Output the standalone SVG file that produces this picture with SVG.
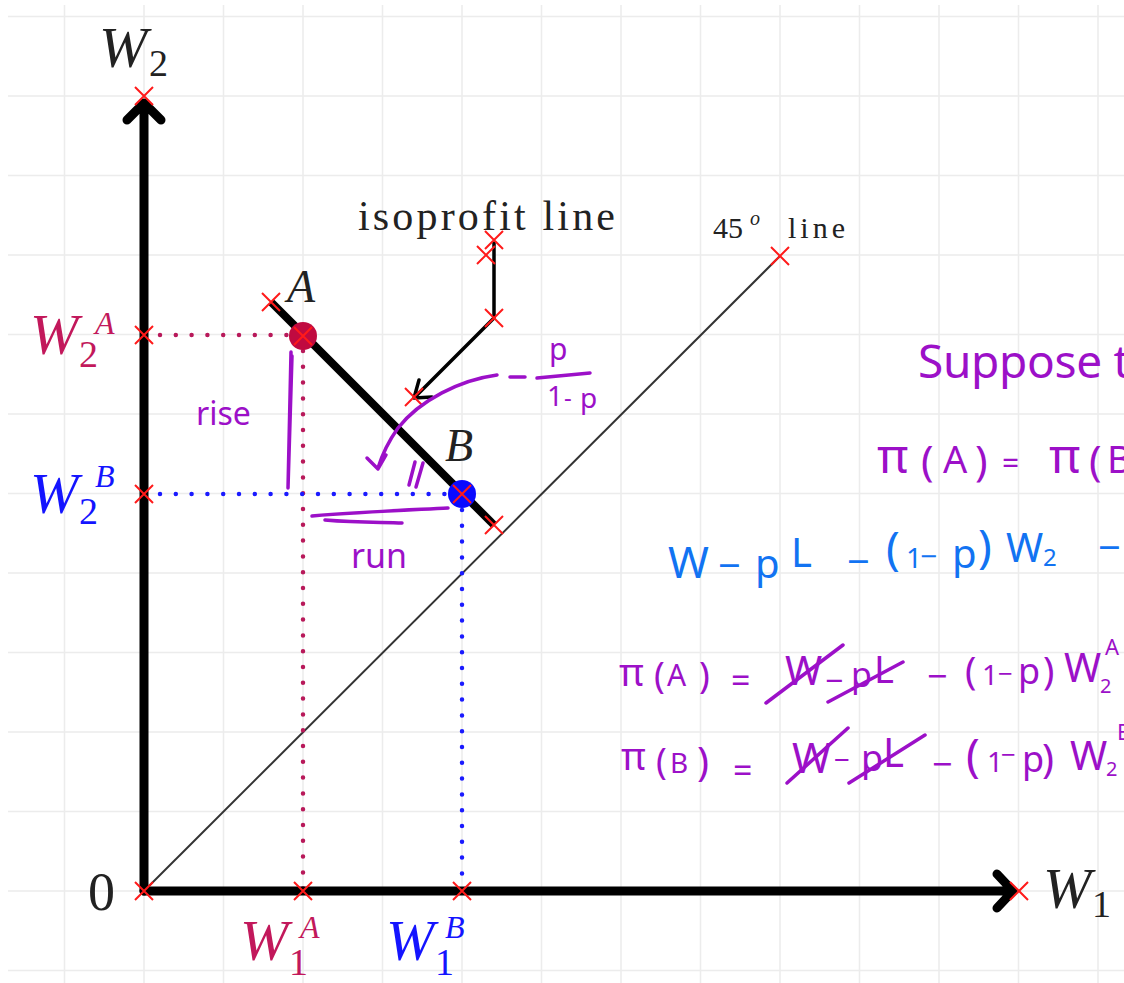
<svg xmlns="http://www.w3.org/2000/svg" xmlns:xlink="http://www.w3.org/1999/xlink" width="1124" height="983" viewBox="0 0 1124 983">
<style>
.grid{stroke:#ececec;stroke-width:1.5;fill:none}
.axis{stroke:#000;stroke-width:9;fill:none;stroke-linecap:round;stroke-linejoin:round}
.mk{stroke:#ff1a1a;stroke-width:2;fill:none}
.dotR{stroke:#b8195a;stroke-width:4.5;stroke-linecap:round;stroke-dasharray:0 15.8;fill:none}
.dotB{stroke:#1a1aff;stroke-width:4.5;stroke-linecap:round;stroke-dasharray:0 15.8;fill:none}
.tex{font-family:"Liberation Serif",serif;fill:#222}
.it{font-style:italic}
.crim{fill:#c2185b}
.blue{fill:#1414ff}
.hw{font-family:"Noto Sans","DejaVu Sans",sans-serif;fill:#9c10c8}
.hwb{font-family:"Noto Sans","DejaVu Sans",sans-serif;fill:#1273f2}
.pst{stroke:#9c10c8;stroke-width:3.5;fill:none;stroke-linecap:round;stroke-linejoin:round}
</style>
<defs>
<path id="x" d="M-9,-9L9,9M-9,9L9,-9"/>
</defs>
<rect width="1124" height="983" fill="#fff"/>
<g id="grid" class="grid">
<path d="M64.5,5V983M144,5V983M223.5,5V983M303,5V983M382.5,5V983M462,5V983M541.5,5V983M621,5V983M700.5,5V983M780,5V983M859.5,5V983M939,5V983M1018.5,5V983M1098,5V983"/>
<path d="M8,16.5H1124M8,96H1124M8,175.5H1124M8,255H1124M8,334.5H1124M8,414H1124M8,493.5H1124M8,573H1124M8,652.5H1124M8,732H1124M8,811.5H1124M8,891H1124M8,970.5H1124"/>
</g>
<g id="connectors">
<path id="line45" d="M144,891L780,256" stroke="#333" stroke-width="2" fill="none"/>
<path class="dotR" d="M160,335H303M303,351V891"/>
<path class="dotB" d="M160,494H462M462,510V891"/>
<path id="w2axis" class="axis" d="M144,891V104M127,120L144,103L161,120"/>
<path id="w1axis" class="axis" d="M144,891H1011M997,874L1013,891L997,908"/>
<path id="isoprofit" d="M271,302L494,525" stroke="#000" stroke-width="8" fill="none"/>
<path id="isoArrow" d="M494,243V318L416,396M419,380L414,398L432,397" stroke="#000" stroke-width="3.5" fill="none" stroke-linecap="round" stroke-linejoin="round"/>
</g>
<g id="pointA"><circle cx="303" cy="336" r="14" fill="#c00a40"/></g>
<g id="pointB"><circle cx="462" cy="494" r="14" fill="#0a0aff"/></g>
<g id="markers" class="mk">
<use xlink:href="#x" x="144" y="96"/>
<use xlink:href="#x" x="144" y="335"/>
<use xlink:href="#x" x="144" y="494"/>
<use xlink:href="#x" x="144" y="891"/>
<use xlink:href="#x" x="303" y="891"/>
<use xlink:href="#x" x="462" y="891"/>
<use xlink:href="#x" x="1019" y="891"/>
<use xlink:href="#x" x="271" y="302"/>
<use xlink:href="#x" x="303" y="336"/>
<use xlink:href="#x" x="462" y="494"/>
<use xlink:href="#x" x="494" y="525"/>
<use xlink:href="#x" x="494" y="240"/>
<use xlink:href="#x" x="486" y="255"/>
<use xlink:href="#x" x="494" y="318"/>
<use xlink:href="#x" x="414" y="397"/>
<use xlink:href="#x" x="780" y="256"/>
</g>
<g id="labels">
<text class="tex it" x="99" y="67" font-size="58">W</text>
<text class="tex" x="149" y="76" font-size="38">2</text>
<text class="tex" x="358" y="230" font-size="42" textLength="257" lengthAdjust="spacing">isoprofit line</text>
<text class="tex" x="713" y="238" font-size="30" fill="#333">45</text>
<text class="tex it" x="750" y="225" font-size="20" fill="#333">o</text>
<text class="tex" x="788" y="238" font-size="30" fill="#333" textLength="57" lengthAdjust="spacing">line</text>
<text class="tex it" x="287" y="302" font-size="46">A</text>
<text class="tex it" x="445" y="461" font-size="46">B</text>
<text class="tex crim it" x="30" y="354" font-size="58">W</text>
<text class="tex crim it" x="95" y="334" font-size="32">A</text>
<text class="tex crim" x="79" y="367" font-size="38">2</text>
<text class="tex blue it" x="30" y="513" font-size="58">W</text>
<text class="tex blue it" x="95" y="487" font-size="32">B</text>
<text class="tex blue" x="79" y="524" font-size="38">2</text>
<text class="tex" x="88" y="910" font-size="54">0</text>
<text class="tex it" x="1043" y="908" font-size="58">W</text>
<text class="tex" x="1092" y="917" font-size="38">1</text>
<text class="tex crim it" x="240" y="960" font-size="58">W</text>
<text class="tex crim it" x="300" y="938" font-size="32">A</text>
<text class="tex crim" x="289" y="975" font-size="38">1</text>
<text class="tex blue it" x="386" y="960" font-size="58">W</text>
<text class="tex blue it" x="445" y="938" font-size="32">B</text>
<text class="tex blue" x="435" y="975" font-size="38">1</text>
</g>
<g id="handwriting">
<path class="pst" d="M291,352L288,488L292,356" stroke-width="4.5"/>
<text class="hw" x="196" y="425" font-size="32">rise</text>
<text class="hw" x="351" y="568" font-size="34">run</text>
<path class="pst" d="M312,516C360,512 410,510 448,508M325,520C360,523 385,522 402,523"/>
<path class="pst" d="M497,375C460,380 420,400 398,428C388,442 382,455 378,468M367,458L378,469L386,455"/>
<path class="pst" d="M409,485L415,462M416,487L423,463"/>
<path class="pst" d="M510,377H525M537,378L590,373"/>
<text class="hw" x="549" y="360" font-size="30">p</text>
<text class="hw" y="406" font-size="28"><tspan x="547">1</tspan><tspan x="564" font-size="24">-</tspan><tspan x="580" y="408">p</tspan></text>
<text class="hw" x="918" y="378" font-size="46" textLength="212" lengthAdjust="spacing">Suppose t</text>
<text class="hw" y="473"><tspan x="877" font-size="48">π</tspan><tspan x="921" y="476" font-size="42">(</tspan><tspan x="943" y="473" font-size="38">A</tspan><tspan x="975" y="476" font-size="42">)</tspan><tspan x="1002" y="474" font-size="30">=</tspan><tspan x="1049" y="473" font-size="48">π</tspan><tspan x="1089" y="476" font-size="42">(</tspan><tspan x="1107" y="473" font-size="38">B</tspan></text>
<text class="hwb" y="578" font-size="40"><tspan x="668" font-size="44">W</tspan><tspan x="718" y="580">−</tspan><tspan x="755" y="578">p</tspan><tspan x="791" y="567">L</tspan><tspan x="847" y="576">−</tspan><tspan x="886" y="565" font-size="46">(</tspan><tspan x="906" y="568" font-size="28">1</tspan><tspan x="920" y="567" font-size="30">−</tspan><tspan x="952" y="568">p</tspan><tspan x="978" y="563" font-size="46">)</tspan><tspan x="1006" y="562">W</tspan><tspan x="1043" y="566" font-size="24">2</tspan><tspan x="1098" y="562">−</tspan></text>
<text class="hw" y="686"><tspan x="619" font-size="38">π</tspan><tspan x="654" y="688" font-size="36">(</tspan><tspan x="667" y="686" font-size="30">A</tspan><tspan x="699" y="688" font-size="36">)</tspan><tspan x="731" y="693" font-size="34">=</tspan><tspan x="785" y="685" font-size="40">W</tspan><tspan x="825" y="692" font-size="32">−</tspan><tspan x="851" y="687" font-size="34">p</tspan><tspan x="874" y="683" font-size="38">L</tspan><tspan x="927" y="689" font-size="36">−</tspan><tspan x="965" y="684" font-size="38">(</tspan><tspan x="982" y="685" font-size="28">1</tspan><tspan x="998" y="683" font-size="26">−</tspan><tspan x="1018" y="684" font-size="36">p</tspan><tspan x="1043" y="684" font-size="38">)</tspan><tspan x="1064" y="682" font-size="40">W</tspan><tspan x="1100" y="693" font-size="20">2</tspan><tspan x="1105" y="655" font-size="22">A</tspan></text>
<text class="hw" y="772"><tspan x="621" y="770" font-size="38">π</tspan><tspan x="656" y="774" font-size="36">(</tspan><tspan x="670" y="773" font-size="28">B</tspan><tspan x="697" y="776" font-size="40">)</tspan><tspan x="733" y="783" font-size="34">=</tspan><tspan x="792" y="773" font-size="42">W</tspan><tspan x="834" y="770" font-size="28">−</tspan><tspan x="861" y="771" font-size="36">p</tspan><tspan x="883" y="767" font-size="40">L</tspan><tspan x="932" y="777" font-size="36">−</tspan><tspan x="966" y="772" font-size="46">(</tspan><tspan x="987" y="772" font-size="28">1</tspan><tspan x="1001" y="764" font-size="26">−</tspan><tspan x="1022" y="772" font-size="36">p</tspan><tspan x="1042" y="773" font-size="40">)</tspan><tspan x="1070" y="770" font-size="40">W</tspan><tspan x="1106" y="776" font-size="20">2</tspan><tspan x="1117" y="740" font-size="22">B</tspan></text>
<path class="pst" d="M766,703L843,645M828,702L903,662M787,783L848,728M849,783L925,735"/>
</g>
</svg>
